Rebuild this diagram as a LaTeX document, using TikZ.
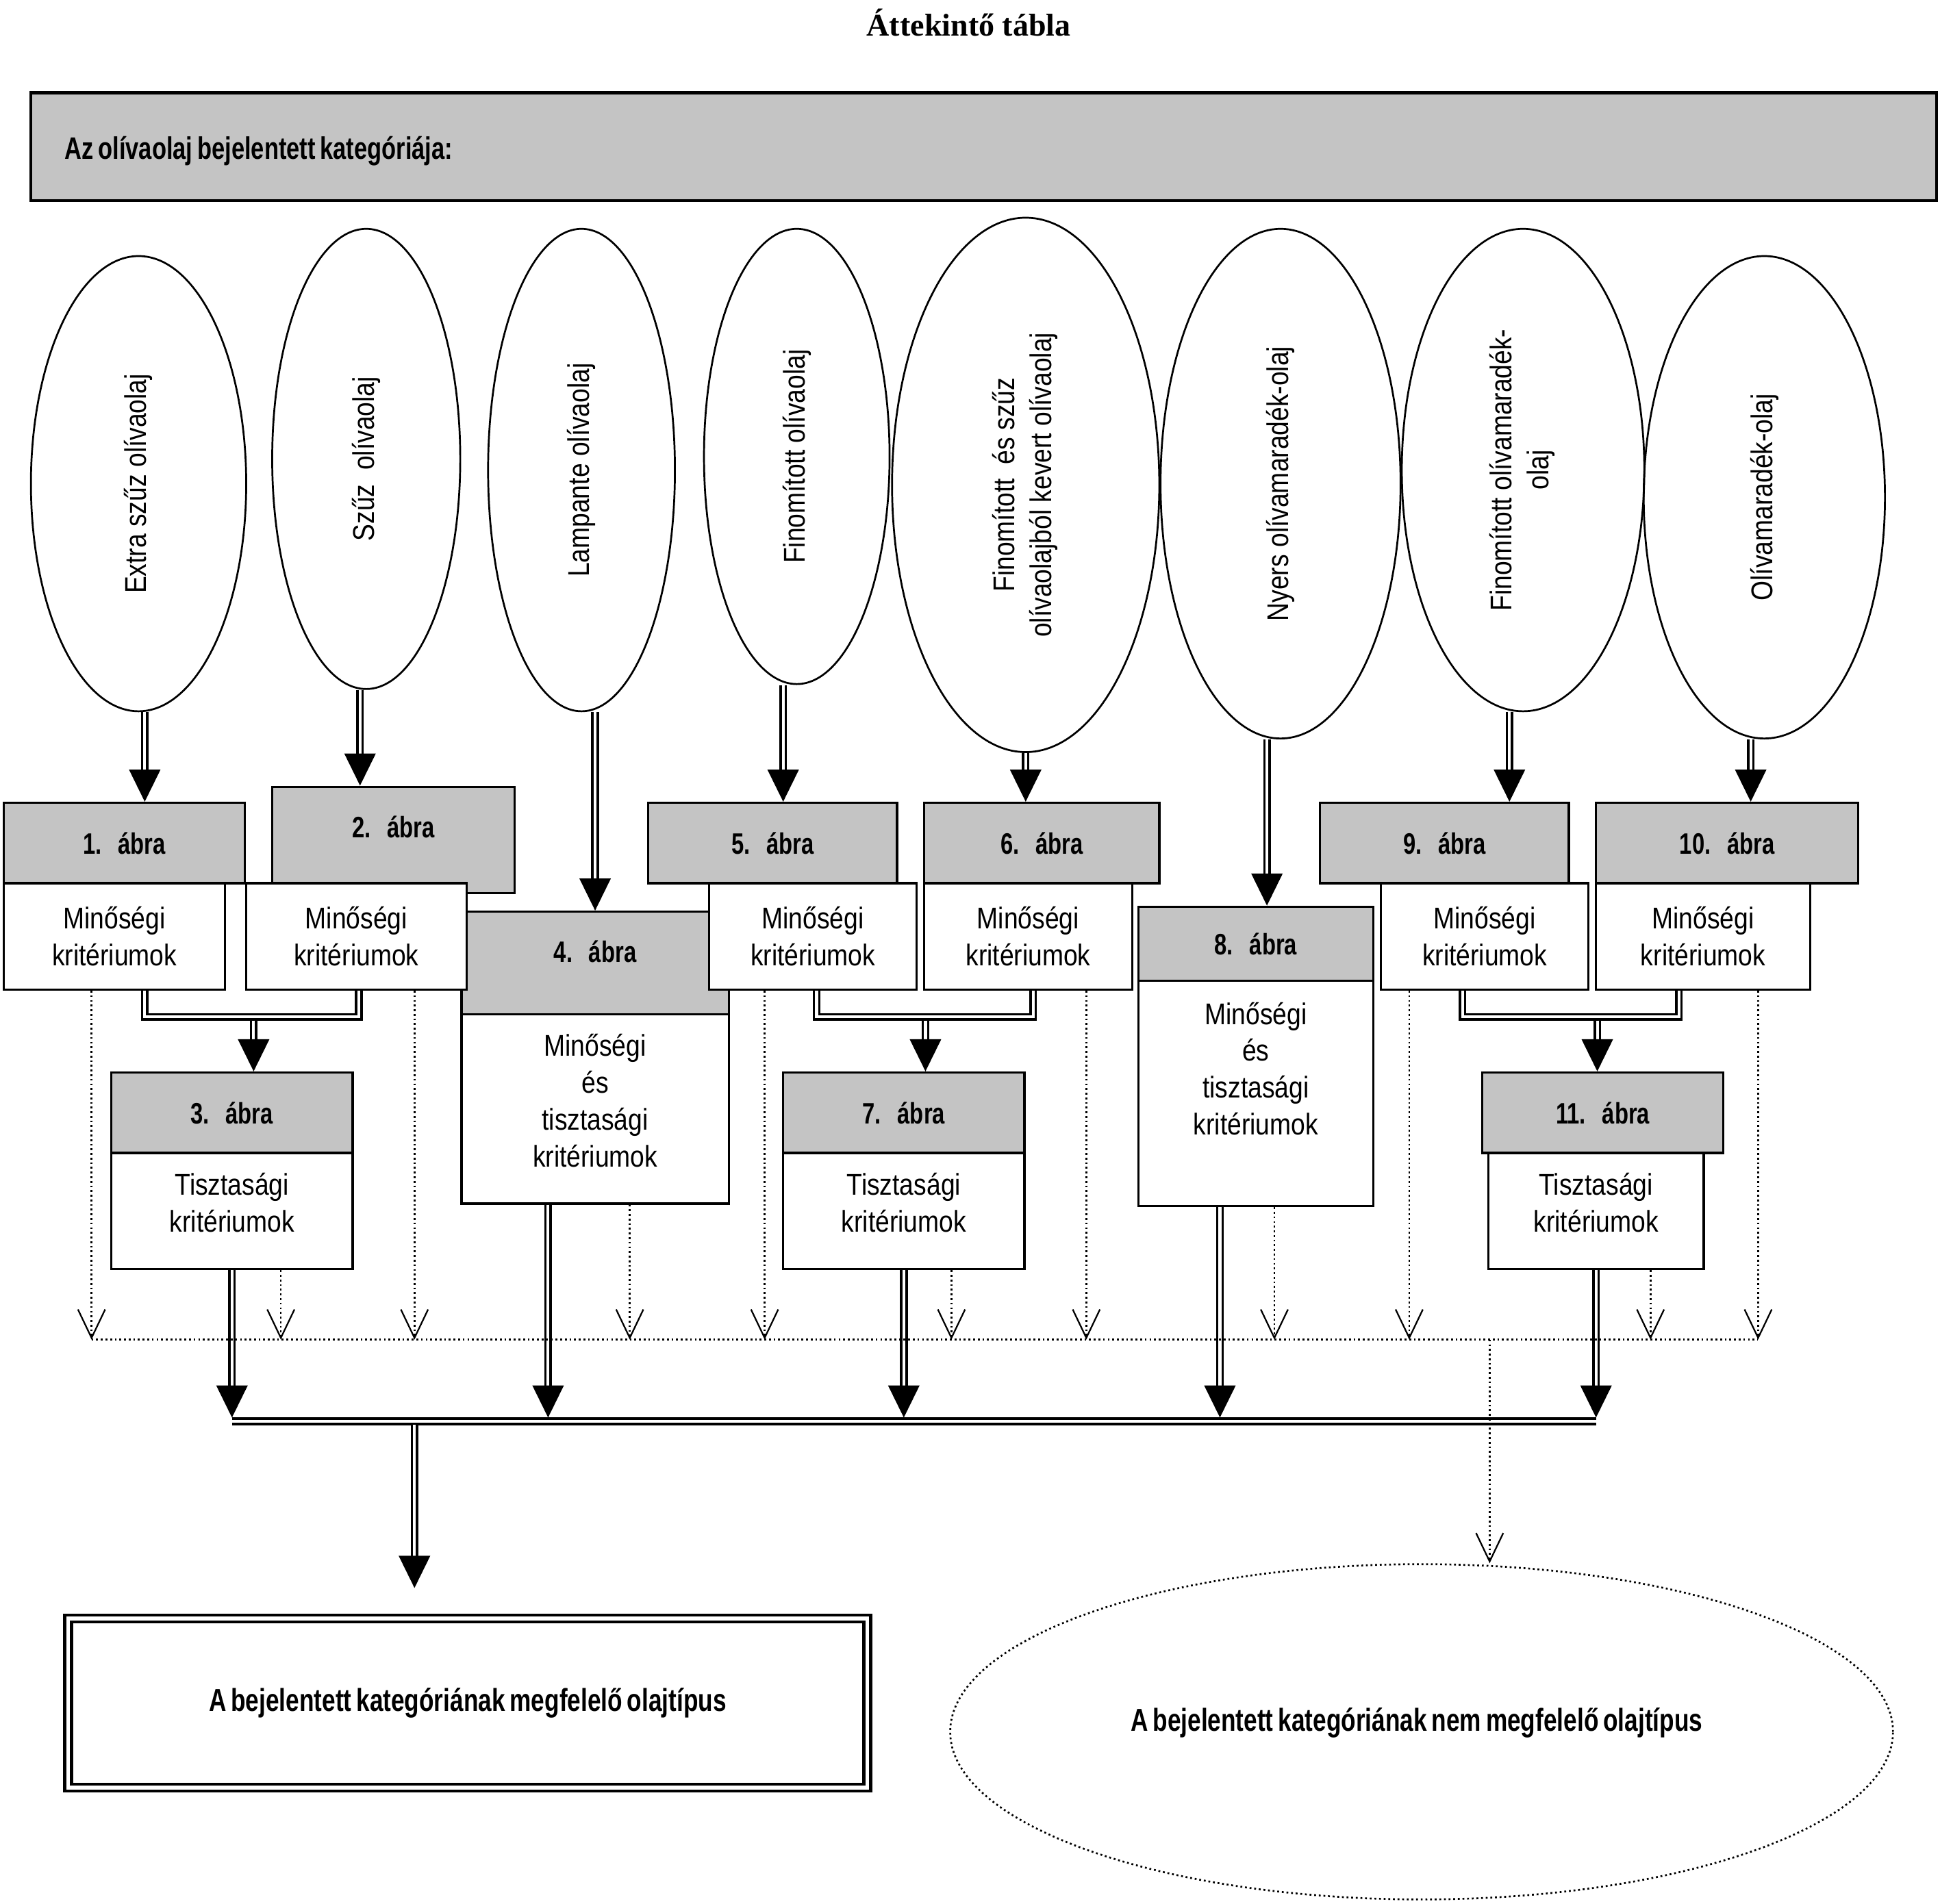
\documentclass[tikz,border=0pt]{standalone}
\usepackage{graphicx}
\usepackage{fontspec}
\newfontfamily\narrowsans{Liberation Sans}[FakeStretch=0.85]
\newfontfamily\narrowbold{Liberation Sans Bold}[FakeStretch=0.76, WordSpace=0.7]
\newfontfamily\titleserif{Liberation Serif}
\usetikzlibrary{shapes.geometric, arrows.meta, calc}
\definecolor{hdrgray}{gray}{0.77}

\begin{document}
\begin{tikzpicture}[
    x=0.2mm, y=-0.2mm,
    every node/.style={font=\narrowsans\fontsize{13.8}{17}\selectfont},
    hdr/.style={rectangle, draw, line width=0.35mm, fill=hdrgray, minimum height=13mm, text height=3.6mm, text depth=0mm, font=\narrowbold\fontsize{13.6}{16}\selectfont},
    crit/.style={rectangle, draw, line width=0.35mm, fill=white, minimum height=17.2mm, align=center},
    oval/.style={ellipse, draw, line width=0.3mm, inner sep=0pt},
    dbl/.style={draw, line width=0.4mm, double, double distance=0.45mm},
    dblarrow/.style={dbl, -{Triangle[length=5.2mm, width=5mm]}},
    dots/.style={line width=0.3mm, dash pattern=on 0.3mm off 0.45mm},
    dotarrow/.style={dots, -{Straight Barb[length=4.6mm, width=4.4mm, line width=0.25mm]}},
]
\useasboundingbox (0,0) rectangle (1568,1539);

% Title and category bar
\node[font=\titleserif\bfseries\fontsize{14.5}{17}\selectfont] (title) at (783,18) {Áttekintő tábla};
\node[rectangle, draw, line width=0.45mm, fill=hdrgray, minimum width=308mm, minimum height=17.4mm] (cat) at (795,118.5) {};
\node[anchor=west, inner sep=0pt, font=\narrowbold\fontsize{14.3}{17}\selectfont] (cattext) at (52,122) {Az olívaolaj bejelentett kategóriája:};

% Categories
\node[oval, minimum width=34.8mm, minimum height=73.6mm] (e1) at (112,391) {\rotatebox{90}{Extra szűz olívaolaj}};
\node[oval, minimum width=30.4mm, minimum height=74.4mm] (e2) at (296,371) {\rotatebox{90}{Szűz\ \ olívaolaj}};
\node[oval, minimum width=30.2mm, minimum height=78mm] (e3) at (470,380) {\rotatebox{90}{Lampante olívaolaj}};
\node[oval, minimum width=30mm, minimum height=73.6mm] (e4) at (644,369) {\rotatebox{90}{Finomított olívaolaj}};
\node[oval, minimum width=43.2mm, minimum height=86.4mm] (e5) at (829,392) {\rotatebox{90}{\begin{tabular}{@{}c@{}}Finomított\ \ és szűz\\olívaolajból kevert olívaolaj\end{tabular}}};
\node[oval, minimum width=38.8mm, minimum height=82.4mm] (e6) at (1035,391) {\rotatebox{90}{Nyers olívamaradék-olaj}};
\node[oval, minimum width=39.2mm, minimum height=78mm] (e7) at (1231,380) {\rotatebox{90}{\begin{tabular}{@{}c@{}}Finomított olívamaradék-\\olaj\end{tabular}}};
\node[oval, minimum width=39mm, minimum height=78mm] (e8) at (1426,402) {\rotatebox{90}{Olívamaradék-olaj}};

% Figure headers
\node[hdr, minimum width=39mm] (h1) at (100.5,681.5) {1.\hspace{0.55em}ábra};
\node[hdr, minimum width=39.2mm, minimum height=17.2mm, text depth=4.4mm] (h2) at (318,679) {2.\hspace{0.55em}ábra};
\node[hdr, minimum width=43.2mm, minimum height=16.6mm, text depth=3.8mm] (h4) at (481,778.5) {4.\hspace{0.55em}ábra};
\node[hdr, minimum width=40.2mm] (h5) at (624.5,681.5) {5.\hspace{0.55em}ábra};
\node[hdr, minimum width=38mm] (h6) at (842,681.5) {6.\hspace{0.55em}ábra};
\node[hdr, minimum width=38mm, minimum height=12mm] (h8) at (1015,763) {8.\hspace{0.55em}ábra};
\node[hdr, minimum width=40.2mm] (h9) at (1167.5,681.5) {9.\hspace{0.55em}ábra};
\node[hdr, minimum width=42.4mm] (h10) at (1396,681.5) {10.\hspace{0.55em}ábra};
\node[hdr, minimum width=39mm] (h3) at (187.5,899.5) {3.\hspace{0.55em}ábra};
\node[hdr, minimum width=39mm] (h7) at (730.5,899.5) {7.\hspace{0.55em}ábra};
\node[hdr, minimum width=39mm] (h11) at (1295.5,899.5) {11.\hspace{0.55em}ábra};

% Criteria
\node[crit, minimum width=35.8mm] (b1) at (92.5,757) {Minőségi\\kritériumok};
\node[crit, minimum width=35.6mm] (b2) at (288,757) {Minőségi\\kritériumok};
\node[crit, minimum width=43.2mm, minimum height=30.6mm] (b4) at (481,896.5) {};
\node[align=center] (t4) at (481,890) {Minőségi\\és\\tisztasági\\kritériumok};
\node[crit, minimum width=33.6mm] (b5) at (657,757) {Minőségi\\kritériumok};
\node[crit, minimum width=33.6mm] (b6) at (831,757) {Minőségi\\kritériumok};
\node[crit, minimum width=38mm, minimum height=36.4mm] (b8) at (1015,884) {};
\node[align=center] (t8) at (1015,864) {Minőségi\\és\\tisztasági\\kritériumok};
\node[crit, minimum width=33.6mm] (b9) at (1200,757) {Minőségi\\kritériumok};
\node[crit, minimum width=34.6mm] (b10) at (1376.5,757) {Minőségi\\kritériumok};
\node[crit, minimum width=39mm, minimum height=18.8mm] (b3) at (187.5,979) {};
\node[align=center] (t3) at (187.5,972) {Tisztasági\\kritériumok};
\node[crit, minimum width=39mm, minimum height=18.8mm] (b7) at (730.5,979) {};
\node[align=center] (t7) at (730.5,972) {Tisztasági\\kritériumok};
\node[crit, minimum width=34.8mm, minimum height=18.8mm] (b11) at (1290,979) {};
\node[align=center] (t11) at (1290,972) {Tisztasági\\kritériumok};

% Results
\node[rectangle, draw, double, line width=0.5mm, double distance=0.6mm, minimum width=129.2mm, minimum height=27.3mm, font=\narrowbold\fontsize{14.6}{17}\selectfont] (ok) at (378,1376.75) {A bejelentett kategóriának megfelelő olajtípus};
\node[ellipse, draw, dots, inner sep=0pt, minimum width=152.4mm, minimum height=54.2mm] (nok) at (1149,1400) {};
\node[font=\narrowbold\fontsize{14.6}{17}\selectfont] (noktext) at (1145,1393) {A bejelentett kategóriának nem megfelelő olajtípus};

% Category -> figure
\draw[dblarrow] ([xshift=1mm]e1.south) -- ([xshift=1mm]e1.south |- h1.north);
\draw[dblarrow] ([xshift=-1mm]e2.south) -- ([xshift=-1mm]e2.south |- h2.north);
\draw[dblarrow] (h4.north |- e3.south) -- (h4.north);
\draw[dblarrow] ([xshift=-2.2mm]e4.south) -- ([xshift=-2.2mm]e4.south |- h5.north);
\draw[dblarrow] (e5.south) -- (e5.south |- h6.north);
\draw[dblarrow] ([xshift=-2.2mm]e6.south) -- ([xshift=-2.2mm]e6.south |- h8.north);
\draw[dblarrow] ([xshift=-2.2mm]e7.south) -- ([xshift=-2.2mm]e7.south |- h9.north);
\draw[dblarrow] ([xshift=-2.2mm]e8.south) -- ([xshift=-2.2mm]e8.south |- h10.north);

% Quality -> purity
\coordinate (u1) at (117,822);  \coordinate (u2) at (290,822);  \coordinate (j3) at (205,825);
\coordinate (u5) at (660,822);  \coordinate (u6) at (835,822);  \coordinate (j7) at (748,825);
\coordinate (u9) at (1182,822); \coordinate (u10) at (1357,822); \coordinate (j11) at (1291,825);
\draw[dbl] (b1.south -| u1) -- (u1) -- (u2) -- (b2.south -| u2);
\draw[dbl] (b5.south -| u5) -- (u5) -- (u6) -- (b6.south -| u6);
\draw[dbl] (b9.south -| u9) -- (u9) -- (u10) -- (b10.south -| u10);
\draw[dblarrow] (j3) -- (h3.north -| j3);
\draw[dblarrow] (j7) -- (h7.north -| j7);
\draw[dblarrow] (j11) -- (h11.north -| j11);

% Conforming branch
\coordinate (bar) at (0,1149);
\coordinate (bartop) at (0,1146);
\coordinate (jb) at (335,1152);
\draw[dbl] (b3.south |- bar) -- (b11.south |- bar);
\draw[dblarrow] (b3.south) -- (b3.south |- bartop);
\draw[dblarrow] ([xshift=-7.6mm]b4.south) -- ([xshift=-7.6mm]b4.south |- bartop);
\draw[dblarrow] (b7.south) -- (b7.south |- bartop);
\draw[dblarrow] ([xshift=-5.8mm]b8.south) -- ([xshift=-5.8mm]b8.south |- bartop);
\draw[dblarrow] (b11.south) -- (b11.south |- bartop);
\draw[dblarrow, shorten >=4.7mm] (jb) -- (ok.north -| jb);

% Non-conforming branch
\coordinate (dl) at (0,1083);
\coordinate (dlL) at (74,1083);
\coordinate (dlR) at (1421,1083);
\coordinate (dlB) at (1204,1083);
\draw[dotarrow] ([xshift=-3.7mm]b1.south) -- ([xshift=-3.7mm]b1.south |- dl);
\draw[dotarrow] ([xshift=9.4mm]b2.south) -- ([xshift=9.4mm]b2.south |- dl);
\draw[dotarrow] ([xshift=7.9mm]b3.south) -- ([xshift=7.9mm]b3.south |- dl);
\draw[dotarrow] ([xshift=5.6mm]b4.south) -- ([xshift=5.6mm]b4.south |- dl);
\draw[dotarrow] ([xshift=-7.8mm]b5.south) -- ([xshift=-7.8mm]b5.south |- dl);
\draw[dotarrow] ([xshift=9.4mm]b6.south) -- ([xshift=9.4mm]b6.south |- dl);
\draw[dotarrow] ([xshift=7.7mm]b7.south) -- ([xshift=7.7mm]b7.south |- dl);
\draw[dotarrow] ([xshift=3mm]b8.south) -- ([xshift=3mm]b8.south |- dl);
\draw[dotarrow] ([xshift=-12.2mm]b9.south) -- ([xshift=-12.2mm]b9.south |- dl);
\draw[dotarrow] ([xshift=8.9mm]b10.south) -- ([xshift=8.9mm]b10.south |- dl);
\draw[dotarrow] ([xshift=8.8mm]b11.south) -- ([xshift=8.8mm]b11.south |- dl);
\draw[dots] (dlL) -- (dlR);
\draw[dotarrow] (dlB) -- (nok.north -| dlB);
\end{tikzpicture}
\end{document}
